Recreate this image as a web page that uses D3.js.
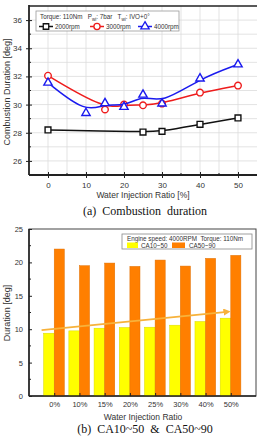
<!DOCTYPE html>
<html>
<head>
<meta charset="utf-8">
<script src="https://cdn.jsdelivr.net/npm/d3@7"></script>
<style>
body { margin: 0; background: #fff; }
svg { display: block; font-family: Arial, "Liberation Sans", sans-serif; }
.cap { font-family: "Liberation Serif", "DejaVu Serif", serif; }
</style>
</head>
<body>
<div id="graph"></div>
<script>
// top chart: combustion duration vs water injection ratio
var ratio2000 = [0, 25, 30, 40, 50];
var dur2000 = [28.2, 28.05, 28.1, 28.6, 29.05];
var ratio3000 = [0, 15, 20, 25, 30, 40, 50];
var dur3000 = [32.05, 29.65, 30.0, 29.95, 30.07, 30.85, 31.35];
var ratio4000 = [0, 10, 15, 20, 25, 30, 40, 50];
var dur4000 = [31.55, 29.4, 30.1, 29.83, 30.7, 30.07, 31.85, 32.85];
var xTicksTop = [0, 10, 20, 30, 40, 50];
var yTicksTop = [26, 28, 30, 32, 34, 36];

// bottom chart: CA10~50 and CA50~90
var categories = ["0%", "10%", "15%", "20%", "25%", "30%", "40%", "50%"];
var ca1050 = [9.4, 9.75, 10.15, 10.25, 10.3, 10.6, 11.15, 11.65];
var ca5090 = [22.0, 19.5, 19.9, 19.4, 20.35, 19.45, 20.6, 21.05];
var trendIdx = [-0.5, 6.85];
var trendVal = [9.85, 12.6];
var yTicksBot = [0, 5, 10, 15, 20, 25];

var width = 257, height = 436;
var svg = d3.select("#graph").append("svg").attr("width", width).attr("height", height);

// ---------- top chart ----------
var top1 = 6, bot1 = 175, left1 = 29, right1 = 257;
var x1 = d3.scaleLinear().domain([-5, 55]).range([left1, right1]);
var y1 = d3.scaleLinear().domain([25, 37]).range([bot1, top1]);

var g1 = svg.append("g");
g1.selectAll(".hg").data(d3.range(26, 37)).enter().append("line")
    .attr("x1", left1).attr("x2", right1)
    .attr("y1", function(d) { return y1(d) }).attr("y2", function(d) { return y1(d) })
    .attr("stroke", "#dcdcdc").attr("stroke-width", 0.8);
g1.selectAll(".vg").data(d3.range(0, 55, 5)).enter().append("line")
    .attr("y1", top1).attr("y2", bot1)
    .attr("x1", function(d) { return x1(d) }).attr("x2", function(d) { return x1(d) })
    .attr("stroke", "#dcdcdc").attr("stroke-width", 0.8);

// frame
g1.append("line").attr("x1", left1).attr("x2", right1 + 2).attr("y1", top1).attr("y2", top1)
    .attr("stroke", "#222").attr("stroke-width", 1.6);

var xAx1 = g1.append("g").attr("transform", "translate(0," + bot1 + ")")
    .call(d3.axisBottom(x1).tickValues(xTicksTop).tickSize(3).tickPadding(4));
xAx1.selectAll(".tick line").attr("y1", -3).attr("y2", 3);
g1.append("g").attr("transform", "translate(0," + bot1 + ")")
    .selectAll("line").data([5, 15, 25, 35, 45]).enter().append("line")
    .attr("x1", function(d) { return x1(d) }).attr("x2", function(d) { return x1(d) })
    .attr("y1", -2).attr("y2", 0).attr("stroke", "#222");

var yAx1 = g1.append("g").attr("transform", "translate(" + left1 + ",0)")
    .call(d3.axisLeft(y1).tickValues(yTicksTop).tickSize(3).tickPadding(4));
yAx1.selectAll(".tick line").attr("x1", -3).attr("x2", 3);
g1.append("g").attr("transform", "translate(" + left1 + ",0)")
    .selectAll("line").data([27, 29, 31, 33, 35]).enter().append("line")
    .attr("y1", function(d) { return y1(d) }).attr("y2", function(d) { return y1(d) })
    .attr("x1", 0).attr("x2", 2).attr("stroke", "#222");

[xAx1, yAx1].forEach(function(a) {
    a.select(".domain").attr("stroke", "#222").attr("stroke-width", 1.8);
    a.selectAll(".tick line").attr("stroke", "#222");
    a.selectAll("text").attr("fill", "#333").style("font-size", "8px");
});
xAx1.select(".domain").attr("d", "M" + left1 + ",0H" + (right1 + 2));
yAx1.select(".domain").attr("d", "M0," + (top1 - 1) + "V" + bot1);

function drawSeries(xs, ys, color, shape) {
    var pts = xs.map(function(v, i) { return [x1(v), y1(ys[i])] });
    g1.append("path").datum(pts)
        .attr("d", d3.line().curve(d3.curveBasis))
        .attr("fill", "none").attr("stroke", color).attr("stroke-width", 1.5);
    g1.selectAll(null).data(pts).enter().append("path")
        .attr("transform", function(d) { return "translate(" + d[0] + "," + d[1] + ")" })
        .attr("d", d3.symbol().type(shape).size(shape === d3.symbolTriangle ? 30 : 34))
        .attr("fill", "#fff").attr("stroke", color).attr("stroke-width", 1.4);
}
drawSeries(ratio2000, dur2000, "#111", d3.symbolSquare);
drawSeries(ratio3000, dur3000, "#ee1c1c", d3.symbolCircle);
drawSeries(ratio4000, dur4000, "#1a1aee", d3.symbolTriangle);

// legend top
var lg1 = g1.append("g");
lg1.append("rect").attr("x", 36).attr("y", 11).attr("width", 143).attr("height", 20)
    .attr("fill", "#fff").attr("stroke", "#999").attr("stroke-width", 0.8);
var lt = lg1.append("text").attr("x", 40).attr("y", 19).attr("fill", "#333")
    .style("font-size", "6.3px").attr("xml:space", "preserve");
lt.append("tspan").text("Torque: 110Nm   P");
lt.append("tspan").attr("dy", 1.5).style("font-size", "4.5px").text("wi");
lt.append("tspan").attr("dy", -1.5).text(": 7bar   T");
lt.append("tspan").attr("dy", 1.5).style("font-size", "4.5px").text("wi");
lt.append("tspan").attr("dy", -1.5).text(": IVO+0\u00b0");
var legItems = [
    {name: "2000rpm", color: "#111", shape: d3.symbolSquare, x: 39},
    {name: "3000rpm", color: "#ee1c1c", shape: d3.symbolCircle, x: 90},
    {name: "4000rpm", color: "#1a1aee", shape: d3.symbolTriangle, x: 138}
];
legItems.forEach(function(d) {
    lg1.append("line").attr("x1", d.x).attr("x2", d.x + 14).attr("y1", 26.5).attr("y2", 26.5)
        .attr("stroke", d.color).attr("stroke-width", 1.5);
    lg1.append("path").attr("transform", "translate(" + (d.x + 7) + ",26.5)")
        .attr("d", d3.symbol().type(d.shape).size(30))
        .attr("fill", "#fff").attr("stroke", d.color).attr("stroke-width", 1.3);
    lg1.append("text").attr("x", d.x + 16).attr("y", 28.8).attr("fill", "#333")
        .style("font-size", "6.3px").text(d.name);
});

svg.append("text").attr("transform", "translate(10,92) rotate(-90)")
    .attr("text-anchor", "middle").attr("fill", "#333").style("font-size", "9px")
    .text("Combustion Duration [deg]");
svg.append("text").attr("x", 143).attr("y", 198).attr("text-anchor", "middle")
    .attr("fill", "#333").style("font-size", "8.5px").text("Water Injection Ratio [%]");
svg.append("text").attr("class", "cap").attr("x", 145).attr("y", 215).attr("text-anchor", "middle")
    .attr("fill", "#111").style("font-size", "12px").attr("xml:space", "preserve")
    .text("(a)  Combustion  duration");

// ---------- bottom chart ----------
var top2 = 229, bot2 = 396, left2 = 29, right2 = 256;
var x2 = d3.scaleLinear().domain([-1, 8]).range([left2, right2]);
var y2 = d3.scaleLinear().domain([0, 25]).range([bot2, top2]);
var bw = 0.42;

var g2 = svg.append("g");
g2.append("rect").attr("x", left2).attr("y", top2).attr("width", right2 - left2).attr("height", bot2 - top2)
    .attr("fill", "none").attr("stroke", "#444").attr("stroke-width", 1);

g2.selectAll(".b1").data(ca1050).enter().append("rect")
    .attr("x", function(d, i) { return x2(i - bw) })
    .attr("width", x2(bw) - x2(0))
    .attr("y", function(d) { return y2(d) })
    .attr("height", function(d) { return y2(0) - y2(d) })
    .attr("fill", "#ffff00").attr("stroke", "#d8d800").attr("stroke-width", 0.5);
g2.selectAll(".b2").data(ca5090).enter().append("rect")
    .attr("x", function(d, i) { return x2(i) })
    .attr("width", x2(bw) - x2(0) - 0.5)
    .attr("y", function(d) { return y2(d) })
    .attr("height", function(d) { return y2(0) - y2(d) })
    .attr("fill", "#ff7f00").attr("stroke", "#e06f00").attr("stroke-width", 0.5);

// trend arrow
svg.append("defs").append("marker").attr("id", "arr")
    .attr("viewBox", "0 0 10 10").attr("refX", 5).attr("refY", 5)
    .attr("markerWidth", 4).attr("markerHeight", 4).attr("orient", "auto")
    .append("path").attr("d", "M0,0L10,5L0,10z").attr("fill", "#f7b23b");
g2.append("line")
    .attr("x1", x2(trendIdx[0])).attr("y1", y2(trendVal[0]))
    .attr("x2", x2(trendIdx[1])).attr("y2", y2(trendVal[1]))
    .attr("stroke", "#f7b23b").attr("stroke-width", 1.8).attr("marker-end", "url(#arr)");

var xAx2 = g2.append("g").attr("transform", "translate(0," + bot2 + ")")
    .call(d3.axisBottom(x2).tickValues(d3.range(categories.length))
        .tickFormat(function(d) { return categories[d] }).tickSize(-3).tickPadding(6));
var yAx2 = g2.append("g").attr("transform", "translate(" + left2 + ",0)")
    .call(d3.axisLeft(y2).tickValues(yTicksBot).tickSize(-3).tickPadding(6));
g2.append("g").attr("transform", "translate(" + left2 + ",0)")
    .selectAll("line").data([2.5, 7.5, 12.5, 17.5, 22.5]).enter().append("line")
    .attr("y1", function(d) { return y2(d) }).attr("y2", function(d) { return y2(d) })
    .attr("x1", 0).attr("x2", 2).attr("stroke", "#222");
[xAx2, yAx2].forEach(function(a) {
    a.select(".domain").attr("stroke", "#222").attr("stroke-width", 1.6);
    a.selectAll(".tick line").attr("stroke", "#222");
    a.selectAll("text").attr("fill", "#333").style("font-size", "7.5px");
});
xAx2.select(".domain").attr("d", "M" + left2 + ",0H" + right2);
yAx2.select(".domain").attr("d", "M0," + top2 + "V" + bot2);

// legend bottom
var lg2 = g2.append("g");
lg2.append("rect").attr("x", 122).attr("y", 234).attr("width", 130).attr("height", 15)
    .attr("fill", "#fff").attr("stroke", "#888").attr("stroke-width", 0.8);
lg2.append("text").attr("x", 127).attr("y", 240.5).attr("fill", "#333").style("font-size", "6.3px")
    .attr("xml:space", "preserve").text("Engine speed: 4000RPM  Torque: 110Nm");
lg2.append("rect").attr("x", 127).attr("y", 242.5).attr("width", 11).attr("height", 5.5).attr("fill", "#ffff00");
lg2.append("text").attr("x", 141).attr("y", 247.8).attr("fill", "#333").style("font-size", "6.3px").text("CA10~50");
lg2.append("rect").attr("x", 172).attr("y", 242.5).attr("width", 13).attr("height", 5.5).attr("fill", "#ff7f00");
lg2.append("text").attr("x", 189).attr("y", 247.8).attr("fill", "#333").style("font-size", "6.3px").text("CA50~90");

svg.append("text").attr("transform", "translate(10,313) rotate(-90)")
    .attr("text-anchor", "middle").attr("fill", "#333").style("font-size", "9px")
    .text("Duration [deg]");
svg.append("text").attr("x", 143).attr("y", 420).attr("text-anchor", "middle")
    .attr("fill", "#333").style("font-size", "8.5px").text("Water Injection Ratio");
svg.append("text").attr("class", "cap").attr("x", 145).attr("y", 432.5).attr("text-anchor", "middle")
    .attr("fill", "#111").style("font-size", "12px").attr("xml:space", "preserve")
    .text("(b)  CA10~50  &  CA50~90");
</script>
</body>
</html>
